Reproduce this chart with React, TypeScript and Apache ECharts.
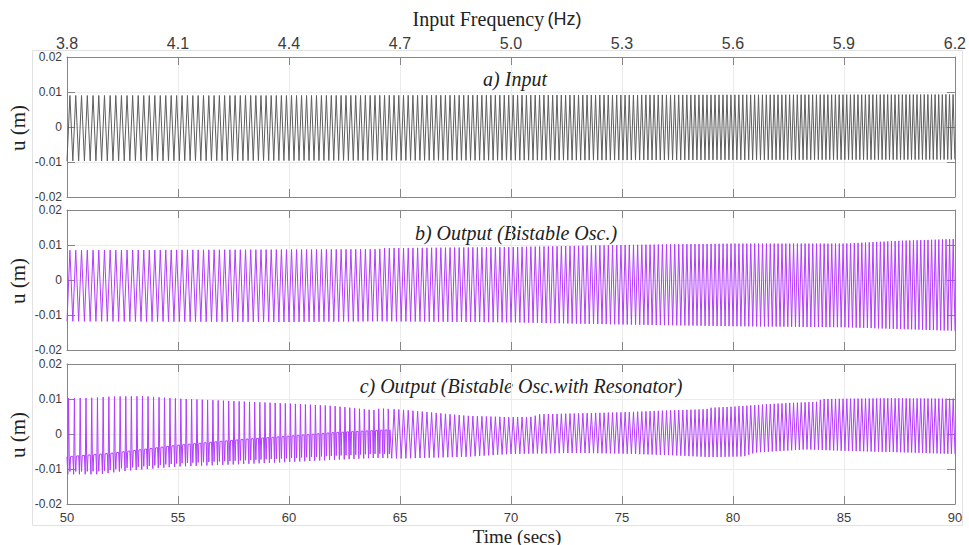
import React, { useEffect, useRef } from "react";
import * as echarts from "echarts";

// Time axis ticks (secs) and the matching input-frequency tick labels (Hz)
const timeTicks = [50, 55, 60, 65, 70, 75, 80, 85, 90];
const freqTickLabels = ["3.8", "4.1", "4.4", "4.7", "5.0", "5.3", "5.6", "5.9", "6.2"];
const uTicks = [-0.02, -0.01, 0, 0.01, 0.02];

// a) Input — envelope of the forcing signal (m)
const inputTimes = [50, 60, 70, 80, 90];
const inputUpper = [0.009, 0.009, 0.0091, 0.0092, 0.0093];
const inputLower = [-0.0097, -0.0096, -0.0095, -0.0094, -0.0093];

// b) Output of the bistable oscillator — envelope (m)
const bistableTimes = [50, 55, 60, 64, 64.3, 70, 75, 80, 85, 87.5, 90];
const bistableUpper = [0.0085, 0.0086, 0.0087, 0.0088, 0.0091, 0.0094, 0.01, 0.0104, 0.0104, 0.0112, 0.0117];
const bistableLower = [-0.0118, -0.0119, -0.012, -0.0118, -0.0118, -0.0121, -0.0127, -0.0132, -0.0135, -0.014, -0.0145];

// c) Output of the bistable oscillator with resonator — envelope (m)
const resonatorUpperTimes = [50, 51, 52, 53.5, 55, 57.5, 60, 62, 63.8, 64.1, 65, 68, 70, 71, 71.2, 73, 75, 77, 78.8, 79, 80, 82, 83.8, 84, 87, 90];
const resonatorUpper = [0.0102, 0.0103, 0.0107, 0.0108, 0.0101, 0.0094, 0.0087, 0.008, 0.0068, 0.0073, 0.007, 0.0052, 0.0048, 0.0049, 0.0056, 0.0059, 0.0062, 0.0067, 0.0071, 0.0075, 0.0078, 0.0087, 0.0092, 0.01, 0.0102, 0.0101];
const resonatorLowerTimes = [50, 51.5, 52.5, 55, 57.5, 60, 62, 64, 65, 68, 70, 73, 75, 77, 79, 80.5, 81, 83.3, 85, 88, 90];
const resonatorLower = [-0.0115, -0.0115, -0.0106, -0.0093, -0.0087, -0.008, -0.0074, -0.0068, -0.007, -0.0065, -0.0057, -0.0054, -0.0056, -0.006, -0.0066, -0.0064, -0.0053, -0.0044, -0.0048, -0.0053, -0.0057];
// in-well level the response settles to between snap-throughs, early regime
const resonatorRestTimes = [50, 52, 55, 58, 60, 62, 64.5];
const resonatorRest = [-0.0065, -0.0055, -0.0032, -0.0015, -0.0006, 0.0004, 0.0012];

const tStart = timeTicks[0];
const tEnd = timeTicks[timeTicks.length - 1];
const fStart = parseFloat(freqTickLabels[0]);
const fEnd = parseFloat(freqTickLabels[freqTickLabels.length - 1]);
const sweepRate = (fEnd - fStart) / (tEnd - tStart);

// linear sweep: time at which the given number of cycles has elapsed
function timeAtCycle(cycles: number): number {
  return tStart + (-fStart + Math.sqrt(fStart * fStart + 2 * sweepRate * cycles)) / sweepRate;
}
const totalCycles = fStart * (tEnd - tStart) + (sweepRate * (tEnd - tStart) ** 2) / 2;

function envelope(ts: number[], vs: number[], t: number): number {
  if (t <= ts[0]) return vs[0];
  for (let i = 1; i < ts.length; i++) {
    if (t <= ts[i]) {
      const r = (t - ts[i - 1]) / (ts[i] - ts[i - 1]);
      return vs[i - 1] + r * (vs[i] - vs[i - 1]);
    }
  }
  return vs[vs.length - 1];
}

// one trough and one crest per cycle of the sweep
function symmetricTrace(upT: number[], up: number[], loT: number[], lo: number[], fromCycle = 0) {
  const pts: number[][] = [];
  for (let k = fromCycle; k <= totalCycles; k += 0.5) {
    const t = timeAtCycle(k);
    if (t > tEnd) break;
    const isCrest = Math.round(k * 2) % 2 === 1;
    pts.push([t, isCrest ? envelope(upT, up, t) : envelope(loT, lo, t)]);
  }
  return pts;
}

// snap-through spikes from the in-well level, then the symmetric regime
function resonatorTrace() {
  const pts: number[][] = [];
  const restEnd = resonatorRestTimes[resonatorRestTimes.length - 1];
  const L = (t: number) => envelope(resonatorLowerTimes, resonatorLower, t);
  const U = (t: number) => envelope(resonatorUpperTimes, resonatorUpper, t);
  const R = (t: number) => envelope(resonatorRestTimes, resonatorRest, t);
  let k = 0;
  for (; k <= totalCycles; k++) {
    if (timeAtCycle(k) > restEnd) break;
    const steps: [number, (t: number) => number][] = [
      [0, R],
      [0.14, L],
      [0.27, U],
      [0.38, R],
      [0.5, (t) => L(t) * 0.85 + R(t) * 0.15],
      [0.62, R],
    ];
    for (const [dp, fn] of steps) {
      const tp = timeAtCycle(k + dp);
      pts.push([tp, fn(tp)]);
    }
  }
  return pts.concat(symmetricTrace(resonatorUpperTimes, resonatorUpper, resonatorLowerTimes, resonatorLower, k));
}

const inputTrace = symmetricTrace(inputTimes, inputUpper, inputTimes, inputLower);
const bistableTrace = symmetricTrace(bistableTimes, bistableUpper, bistableTimes, bistableLower);
const resonatorTraceData = resonatorTrace();

const axisColor = "#868686";
const gridColor = "#ebebeb";
const labelColor = "#3c3c3c";
const sans = "'Liberation Sans', Arial, sans-serif";
const serif = "'Liberation Serif', 'Times New Roman', serif";
const purple = "#b23cff";

const panelTops = [57, 210, 364];
const panelHeight = 140;
const plotLeft = 67;
const plotRight = 14;

function timeAxis(gridIndex: number, position: "top" | "bottom", extra: any = {}) {
  return {
    type: "value",
    gridIndex,
    position,
    min: tStart,
    max: tEnd,
    interval: timeTicks[1] - timeTicks[0],
    axisLine: { show: true, onZero: false, lineStyle: { color: axisColor, width: 1 } },
    axisTick: { show: true, inside: true, length: 8, lineStyle: { color: axisColor } },
    splitLine: { show: position === "bottom", lineStyle: { color: gridColor, width: 1 } },
    axisLabel: { show: false },
    ...extra,
  };
}

function uAxis(gridIndex: number, position: "left" | "right") {
  return {
    type: "value",
    gridIndex,
    position,
    min: uTicks[0],
    max: uTicks[uTicks.length - 1],
    interval: uTicks[1] - uTicks[0],
    axisLine: { show: true, onZero: false, lineStyle: { color: axisColor, width: 1 } },
    axisTick: { show: true, inside: true, length: 8, lineStyle: { color: axisColor } },
    splitLine: { show: position === "left", lineStyle: { color: gridColor, width: 1 } },
    axisLabel: {
      show: position === "left",
      margin: 5,
      fontSize: 12,
      fontFamily: sans,
      color: labelColor,
      formatter: (v: number) => (Math.abs(v) < 1e-9 ? "0" : v.toFixed(2)),
    },
  };
}

function traceSeries(idx: number, data: number[][], color: string) {
  return {
    type: "line",
    xAxisIndex: idx * 2,
    yAxisIndex: idx * 2,
    data,
    showSymbol: false,
    symbol: "none",
    silent: true,
    clip: true,
    lineStyle: { color, width: 1 },
  };
}

const titles = [
  { text: "a) Input", x: 515, y: 79 },
  { text: "b) Output (Bistable Osc.)", x: 516, y: 233 },
  { text: "c) Output (Bistable Osc.with Resonator)", x: 521, y: 386 },
];

const option: any = {
  animation: false,
  backgroundColor: "#ffffff",
  grid: panelTops.map((top) => ({ left: plotLeft, right: plotRight, top, height: panelHeight })),
  xAxis: [
    timeAxis(0, "bottom"),
    timeAxis(0, "top", {
      axisLabel: {
        show: true,
        margin: 6,
        fontSize: 16,
        fontFamily: sans,
        color: labelColor,
        formatter: (v: number) => freqTickLabels[Math.round((v - tStart) / (timeTicks[1] - timeTicks[0]))] ?? "",
      },
    }),
    timeAxis(1, "bottom"),
    timeAxis(1, "top"),
    timeAxis(2, "bottom", {
      axisLabel: { show: true, margin: 7, fontSize: 13, fontFamily: sans, color: labelColor },
    }),
    timeAxis(2, "top"),
  ],
  yAxis: [uAxis(0, "left"), uAxis(0, "right"), uAxis(1, "left"), uAxis(1, "right"), uAxis(2, "left"), uAxis(2, "right")],
  series: [
    traceSeries(0, inputTrace, "#5e5e5e"),
    traceSeries(1, bistableTrace, purple),
    traceSeries(2, resonatorTraceData, purple),
  ],
  graphic: [
    {
      type: "rect",
      z: -10,
      shape: { x: 32.5, y: 50.5, width: 930, height: 475 },
      style: { fill: "none", stroke: "#e2e2e2", lineWidth: 1 },
    },
    {
      type: "text",
      x: 497,
      y: 19,
      style: {
        text: "{s|Input Frequency} {h|(Hz)}",
        align: "center",
        verticalAlign: "middle",
        fill: "#222",
        rich: {
          s: { fontFamily: serif, fontSize: 20, fill: "#222" },
          h: { fontFamily: sans, fontSize: 18, fill: "#222" },
        },
      },
    },
    {
      type: "text",
      x: 517,
      y: 536,
      style: { text: "Time (secs)", font: `19px ${serif}`, fill: "#222", align: "center", verticalAlign: "middle" },
    },
    ...panelTops.map((top) => ({
      type: "text",
      x: 18,
      y: top + panelHeight / 2 + 1,
      rotation: Math.PI / 2,
      style: { text: "u (m)", font: `21px ${serif}`, fill: "#222", align: "center", verticalAlign: "middle" },
    })),
    ...titles.map((t) => ({
      type: "text",
      x: t.x,
      y: t.y,
      style: { text: t.text, font: `italic 20px ${serif}`, fill: "#222", align: "center", verticalAlign: "middle" },
    })),
  ],
};

export default function App() {
  const ref = useRef<HTMLDivElement>(null);
  useEffect(() => {
    if (!ref.current) return;
    const chart = echarts.init(ref.current, null, { renderer: "svg" });
    chart.setOption(option);
    return () => chart.dispose();
  }, []);
  return (
    <div
      ref={ref}
      style={{ position: "fixed", left: 0, top: 0, width: 969, height: 545, background: "#fff" }}
    />
  );
}
